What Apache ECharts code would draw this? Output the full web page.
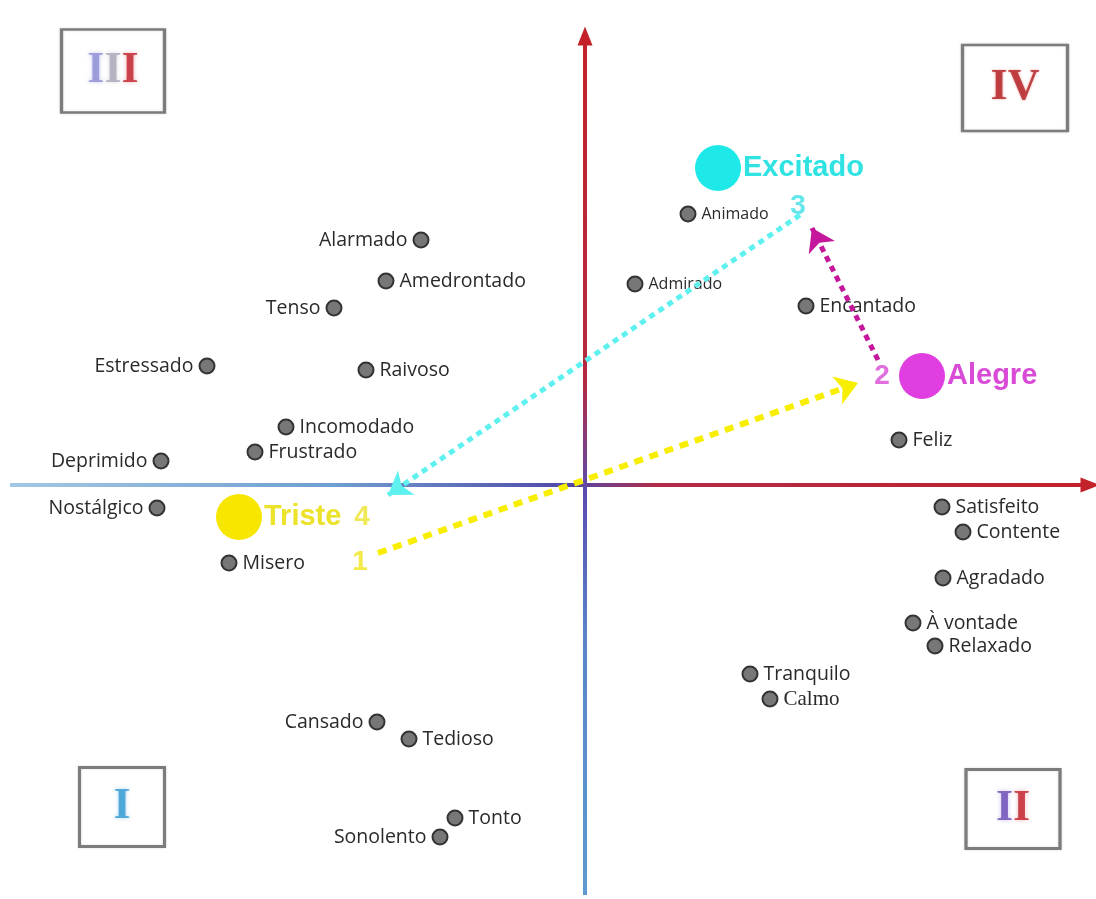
<!DOCTYPE html>
<html><head><meta charset="utf-8">
<script src="https://cdn.jsdelivr.net/npm/echarts@6/dist/echarts.min.js"></script>
<style>html,body{margin:0;padding:0;background:#fff}#c{width:1096px;height:899px}</style>
</head><body><div id="c"></div>
<script>
// Emotion points (x = valence, y = arousal, in chart units centred on the axes crossing)
const emotions = ['Alarmado','Amedrontado','Tenso','Estressado','Raivoso','Incomodado','Frustrado','Deprimido','Nostálgico','Misero','Cansado','Tedioso','Tonto','Sonolento','Animado','Admirado','Encantado','Feliz','Satisfeito','Contente','Agradado','À vontade','Relaxado','Tranquilo','Calmo'];
const emoX = [-164,-199,-251,-378,-219,-299,-330,-424,-428,-356,-208,-176,-130,-145,103,50,221,314,357,378,358,328,350,165,185];
const emoY = [245,204,177,119,115,58,33,24,-23,-78,-237,-254,-333,-352,271,201,179,45,-22,-47,-93,-138,-161,-189,-214];

// Key states (large circles)
const keyStates = ['Excitado','Alegre','Triste'];
const keyX = [133,337,-346];
const keyY = [317,109,-32];

// Step numbers
const stepLabels = ['1','2','3','4'];
const stepX = [-225,297,213,-223];
const stepY = [-77,109,279,-32];

// Transition arrows (from -> to)
const pathFromX = [-207,293,215];
const pathFromY = [-68,125,270];
const pathToX = [273,227,-197];
const pathToY = [102,257,-10];

// Quadrant labels
const quadNames = ['III','IV','I','II'];
const quadX = [-472,430,-463,428];
const quadY = [414,397,-322,-324];

// Axis extents
const axisXMin = -575, axisXMax = 511;
const axisYMin = -410, axisYMax = 455;

// ---- styles ----
const leftLabelled = new Set(['Alarmado','Tenso','Estressado','Deprimido','Nostálgico','Cansado','Sonolento']);
const smallLabelled = new Set(['Animado','Admirado']);
const serifLabelled = new Set(['Calmo']);
const keyColors = ['#1ee8e8','#e03ee0','#f7e600'];
const keyTextColors = ['#2fe3e3','#d94ad6','#ece22a'];
const stepColors = ['#f0e41a','#d94ad6','#3ee0e6','#ece22a'];
const pathColors = ['#f7ee00','#c4179c','#5ff0f0'];
const pathWidths = [6,5,5];
const pathDash = [[9,7],[6,5],[6,5]];
const quadRich = {
  III: [['a','I'],['b','I'],['c','I']],
  IV: [['r','IV']],
  I: [['u','I']],
  II: [['p','I'],['c','I']]
};
const quadSizes = [[103,83],[105,86],[85,79],[94,79]];
const serif = '"Liberation Serif","DejaVu Serif",serif';
const sans = '"Open Sans","Noto Sans",sans-serif';
const boldSans = '"Liberation Sans",Arial,sans-serif';

const dotData = emotions.map((n,i)=>{
  const left = leftLabelled.has(n);
  return {
    name:n, value:[emoX[i],emoY[i]],
    label:{
      position:left?'left':'right',
      fontSize:smallLabelled.has(n)?16:(serifLabelled.has(n)?21:19.5),
      fontFamily:serifLabelled.has(n)?serif:sans
    }
  };
});

const keyData = keyStates.map((n,i)=>({
  name:n, value:[keyX[i],keyY[i]],
  itemStyle:{color:keyColors[i]},
  label:{color:keyTextColors[i]}
}));

const stepData = stepLabels.map((n,i)=>({
  name:n, value:[stepX[i],stepY[i]],
  label:{color:stepColors[i]}
}));

const pathData = pathFromX.map((x,i)=>({
  coords:[[x,pathFromY[i]],[pathToX[i],pathToY[i]]],
  lineStyle:{color:pathColors[i],width:pathWidths[i],type:pathDash[i]}
}));

const richStyles = {
  a:{color:'#8f8fd6',fontSize:44,fontFamily:serif,fontWeight:'bold',textShadowColor:'#b8b8ee',textShadowBlur:4},
  b:{color:'#a8a8b8',fontSize:44,fontFamily:serif,fontWeight:'bold',textShadowColor:'#d0d0d8',textShadowBlur:4},
  c:{color:'#c0202c',fontSize:44,fontFamily:serif,fontWeight:'bold',textShadowColor:'#f0a0a0',textShadowBlur:4},
  r:{color:'#b01e22',fontSize:44,fontFamily:serif,fontWeight:'bold',textShadowColor:'#f0a0a0',textShadowBlur:3},
  u:{color:'#2f9ad2',fontSize:44,fontFamily:serif,fontWeight:'bold',textShadowColor:'#a0d0f0',textShadowBlur:4},
  p:{color:'#6a4ab4',fontSize:44,fontFamily:serif,fontWeight:'bold',textShadowColor:'#c0b0f0',textShadowBlur:4}
};

const quadData = quadNames.map((n,i)=>({
  name:n, value:[quadX[i],quadY[i]],
  symbolSize:quadSizes[i],
  label:{formatter:quadRich[n].map(([k,t])=>'{'+k+'|'+t+'}').join('')}
}));

const chart = echarts.init(document.getElementById('c'));
chart.setOption({
  animation:false,
  backgroundColor:'#ffffff',
  grid:{left:0,right:0,top:0,bottom:0},
  xAxis:{type:'value',min:-585,max:511,show:false},
  yAxis:{type:'value',min:-414,max:485,show:false},
  series:[
    // horizontal axis
    {type:'line',data:[[axisXMin,0],[axisXMax-8,0]],symbol:'none',silent:true,z:1,
     lineStyle:{width:4,color:new echarts.graphic.LinearGradient(0,0,1,0,[
       {offset:0,color:'#a3c8e4'},{offset:0.3,color:'#6f9fd0'},{offset:0.52,color:'#5048a8'},
       {offset:0.6,color:'#b02a48'},{offset:1,color:'#c4222a'}])}},
    // vertical axis
    {type:'line',data:[[0,axisYMax-8],[0,axisYMin]],symbol:'none',silent:true,z:1,
     lineStyle:{width:4,color:new echarts.graphic.LinearGradient(0,0,0,1,[
       {offset:0,color:'#c4222a'},{offset:0.4,color:'#b42a40'},{offset:0.53,color:'#5a4cb0'},
       {offset:0.7,color:'#5a86c8'},{offset:1,color:'#5e9ad0'}])}},
    // arrowheads
    {type:'scatter',silent:true,z:2,symbol:'triangle',symbolSize:[15,19],
     data:[{value:[axisXMax-6,0],symbolRotate:-90},{value:[0,axisYMax-6],symbolRotate:0}],
     itemStyle:{color:'#c4222a',opacity:1}},
    // quadrant boxes
    {type:'scatter',silent:true,z:2,symbol:'rect',data:quadData,
     itemStyle:{color:'#ffffff',opacity:1,borderColor:'#7c7c7c',borderWidth:3,shadowColor:'rgba(0,0,0,0.12)',shadowBlur:3}},
    // emotion dots
    {type:'scatter',z:3,symbol:'circle',symbolSize:15,data:dotData,
     itemStyle:{color:'#777777',opacity:1,borderColor:'#333333',borderWidth:2},
     label:{show:true,formatter:'{b}',color:'#2a2a2a',distance:5}},
    // key states
    {type:'scatter',z:4,symbol:'circle',symbolSize:46,data:keyData,
     itemStyle:{opacity:1},
     label:{show:true,position:'right',distance:2,formatter:'{b}',fontSize:29,fontWeight:'bold',fontFamily:boldSans}},
    // step numbers
    {type:'scatter',z:4,symbolSize:0,data:stepData,
     label:{show:true,position:'inside',formatter:'{b}',fontSize:28,fontWeight:'bold',fontFamily:boldSans}},
    // transition arrows
    {type:'lines',coordinateSystem:'cartesian2d',z:5,symbol:['none','arrow'],symbolSize:22,
     data:pathData,lineStyle:{opacity:1,cap:'butt'}},
    // quadrant numerals on top of boxes
    {type:'scatter',silent:true,z:6,symbolSize:0,data:quadData.map(d=>({name:d.name,value:d.value,label:d.label})),
     label:{show:true,position:'inside',rich:richStyles}}
  ]
});
</script>
</body></html>
